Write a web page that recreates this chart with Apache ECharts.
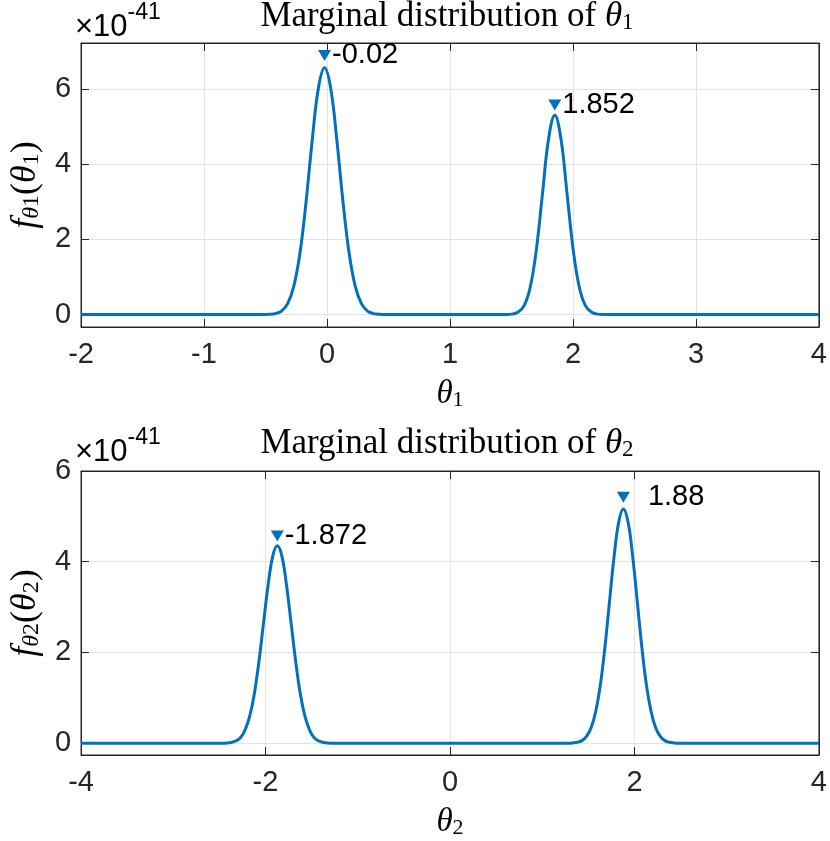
<!DOCTYPE html>
<html>
<head>
<meta charset="utf-8">
<script src="https://cdn.jsdelivr.net/npm/echarts@6/dist/echarts.min.js"></script>
<style>
  html, body { margin: 0; padding: 0; background: #fff; }
  #chart { width: 830px; height: 841px; }
</style>
</head>
<body>
<div id="chart"></div>
<script>
// theta_1 marginal (values in units of 1e-41)
const theta1X = [-2, -0.52, -0.47, -0.42, -0.37, -0.32, -0.27, -0.22, -0.17, -0.12, -0.07, -0.02,
  0.03, 0.08, 0.13, 0.18, 0.23, 0.28, 0.33, 0.38, 0.43, 0.48,
  1.40, 1.452, 1.502, 1.552, 1.602, 1.652, 1.702, 1.752, 1.802, 1.852,
  1.902, 1.952, 2.002, 2.052, 2.102, 2.152, 2.202, 2.252, 2.302, 4];
const theta1Y = [0, 0.001, 0.006, 0.026, 0.092, 0.29, 0.75, 1.63, 3.00, 4.64, 6.02, 6.56,
  6.02, 4.64, 3.00, 1.63, 0.75, 0.29, 0.092, 0.026, 0.006, 0.001,
  0, 0.002, 0.012, 0.059, 0.23, 0.72, 1.72, 3.21, 4.68, 5.30,
  4.68, 3.21, 1.72, 0.72, 0.23, 0.059, 0.012, 0.002, 0, 0];

// theta_2 marginal
const theta2X = [-4, -2.472, -2.422, -2.372, -2.322, -2.272, -2.222, -2.172, -2.122, -2.072, -2.022, -1.972, -1.922, -1.872,
  -1.822, -1.772, -1.722, -1.672, -1.622, -1.572, -1.522, -1.472, -1.422, -1.372, -1.322, -1.272,
  1.28, 1.33, 1.38, 1.43, 1.48, 1.53, 1.58, 1.63, 1.68, 1.73, 1.78, 1.83, 1.88,
  1.93, 1.98, 2.03, 2.08, 2.13, 2.18, 2.23, 2.28, 2.33, 2.38, 2.43, 2.48, 4];
const theta2Y = [0, 0.001, 0.005, 0.017, 0.048, 0.12, 0.29, 0.59, 1.08, 1.79, 2.64, 3.48, 4.12, 4.35,
  4.12, 3.48, 2.64, 1.79, 1.08, 0.59, 0.29, 0.12, 0.048, 0.017, 0.005, 0.001,
  0.001, 0.006, 0.02, 0.057, 0.15, 0.34, 0.70, 1.28, 2.12, 3.13, 4.13, 4.88, 5.16,
  4.88, 4.13, 3.13, 2.12, 1.28, 0.70, 0.34, 0.15, 0.057, 0.02, 0.006, 0.001, 0];

// peak markers: x, marker height, label
const peaks1X = [-0.02, 1.852];
const peaks1Y = [6.89, 5.57];
const peaks1Label = ['-0.02', '1.852'];
const peaks2X = [-1.872, 1.88];
const peaks2Y = [4.57, 5.42];
const peaks2Label = ['-1.872', '1.88'];

const xTicks1 = [-2, 4, 1];
const xTicks2 = [-4, 4, 2];
const yRange1 = [-0.33, 7.22];
const yRange2 = [-0.26, 6];

const BLUE = '#0072BD';
const AX = '#262626';
const SANS = 'Liberation Sans';
const SERIF = 'Liberation Serif';

function mathStyles(big, small) {
  return {
    i: { fontFamily: SERIF, fontStyle: 'italic', fontWeight: 'normal', fontSize: big, color: '#000', lineHeight: big + 1, verticalAlign: 'bottom' },
    a: { fontFamily: SERIF, fontWeight: 'normal', fontSize: big, color: '#000', lineHeight: big + 1, verticalAlign: 'bottom' },
    si: { fontFamily: SERIF, fontStyle: 'italic', fontWeight: 'normal', fontSize: small, color: '#000', lineHeight: 12, verticalAlign: 'bottom' },
    s: { fontFamily: SERIF, fontWeight: 'normal', fontSize: small, color: '#000', lineHeight: 12, verticalAlign: 'bottom' }
  };
}
const axisRich = mathStyles(33, 22);
const ylabRich = mathStyles(36, 24);
const titleRich = mathStyles(35, 23);

function zip(xs, ys) { return xs.map((x, i) => [x, ys[i]]); }

function xAxes(range, grid) {
  const base = {
    type: 'value', gridIndex: grid, min: range[0], max: range[1], interval: range[2],
    axisLine: { show: true, onZero: false, lineStyle: { color: AX, width: 1 } },
    axisTick: { show: true, inside: true, length: 8, lineStyle: { color: AX } }
  };
  return [
    Object.assign({}, base, {
      position: 'bottom',
      axisLabel: { fontFamily: SANS, fontSize: 29, color: AX, margin: 13 },
      splitLine: { show: true, lineStyle: { color: '#e3e3e3', width: 1 } },
      name: '{i|θ}{s|' + (grid + 1) + '}', nameLocation: 'middle', nameGap: 50,
      nameTextStyle: { rich: axisRich }
    }),
    Object.assign({}, base, {
      position: 'top', axisLabel: { show: false }, splitLine: { show: false }
    })
  ];
}

function yAxes(range, grid) {
  const base = {
    type: 'value', gridIndex: grid, min: range[0], max: range[1], minInterval: 2, maxInterval: 2,
    axisLine: { show: true, onZero: false, lineStyle: { color: AX, width: 1 } },
    axisTick: { show: true, inside: true, length: 8, lineStyle: { color: AX } }
  };
  const n = grid + 1;
  return [
    Object.assign({}, base, {
      position: 'left',
      axisLabel: { fontFamily: SANS, fontSize: 29, color: AX, margin: 10, showMinLabel: false, showMaxLabel: range[1] === 6 },
      splitLine: { show: true, lineStyle: { color: '#e3e3e3', width: 1 } },
      name: '{i|f}{si|θ}{s|' + n + '}{a|(}{i|θ}{s|' + n + '}{a|)}',
      nameLocation: 'middle', nameGap: 35, nameRotate: 90,
      nameTextStyle: { rich: ylabRich }
    }),
    Object.assign({}, base, {
      position: 'right', axisLabel: { show: false }, splitLine: { show: false }
    })
  ];
}

function peakSeries(xs, ys, labels, xi, yi, gaps) {
  return {
    type: 'scatter', xAxisIndex: xi, yAxisIndex: yi,
    symbol: 'triangle', symbolRotate: 180, symbolSize: [13, 11],
    itemStyle: { color: BLUE, opacity: 1 },
    data: xs.map((x, i) => ({
      value: [x, ys[i]], name: labels[i],
      label: { distance: gaps[i] }
    })),
    label: {
      show: true, position: 'right', formatter: p => p.name,
      fontFamily: SANS, fontSize: 29, color: '#000'
    },
    z: 5
  };
}

const chart = echarts.init(document.getElementById('chart'), null, { renderer: 'canvas' });

const expRich = {
  m: { fontFamily: SANS, fontSize: 31, color: AX, lineHeight: 42, verticalAlign: 'bottom' },
  e: { fontFamily: SANS, fontSize: 23, color: AX, lineHeight: 22, verticalAlign: 'top' }
};

chart.setOption({
  animation: false,
  backgroundColor: '#fff',
  title: [
    { text: '{a|Marginal distribution of }{i|θ}{s|1}', left: 447, top: -2, textAlign: 'center', padding: 0, textStyle: { fontWeight: 'normal', rich: titleRich } },
    { text: '{a|Marginal distribution of }{i|θ}{s|2}', left: 447, top: 425, textAlign: 'center', padding: 0, textStyle: { fontWeight: 'normal', rich: titleRich } }
  ],
  graphic: [
    { type: 'text', left: 75, top: 1, style: { text: '{m|×10}{e|-41}', rich: expRich } },
    { type: 'text', left: 75, top: 426, style: { text: '{m|×10}{e|-41}', rich: expRich } }
  ],
  grid: [
    { left: 72, right: 8, top: 43, bottom: 514, show: true, borderColor: AX, borderWidth: 1 },
    { left: 72, right: 8, top: 471, bottom: 86, show: true, borderColor: AX, borderWidth: 1 }
  ],
  xAxis: xAxes(xTicks1, 0).concat(xAxes(xTicks2, 1)),
  yAxis: yAxes(yRange1, 0).concat(yAxes(yRange2, 1)),
  series: [
    {
      type: 'line', xAxisIndex: 0, yAxisIndex: 0, data: zip(theta1X, theta1Y),
      showSymbol: false, smooth: 0.4,
      lineStyle: { color: BLUE, width: 3 }, z: 3
    },
    {
      type: 'line', xAxisIndex: 2, yAxisIndex: 2, data: zip(theta2X, theta2Y),
      showSymbol: false, smooth: 0.4,
      lineStyle: { color: BLUE, width: 3 }, z: 3
    },
    peakSeries(peaks1X, peaks1Y, peaks1Label, 0, 0, [1, 1]),
    peakSeries(peaks2X, peaks2Y, peaks2Label, 2, 2, [1, 18])
  ]
});
</script>
</body>
</html>
